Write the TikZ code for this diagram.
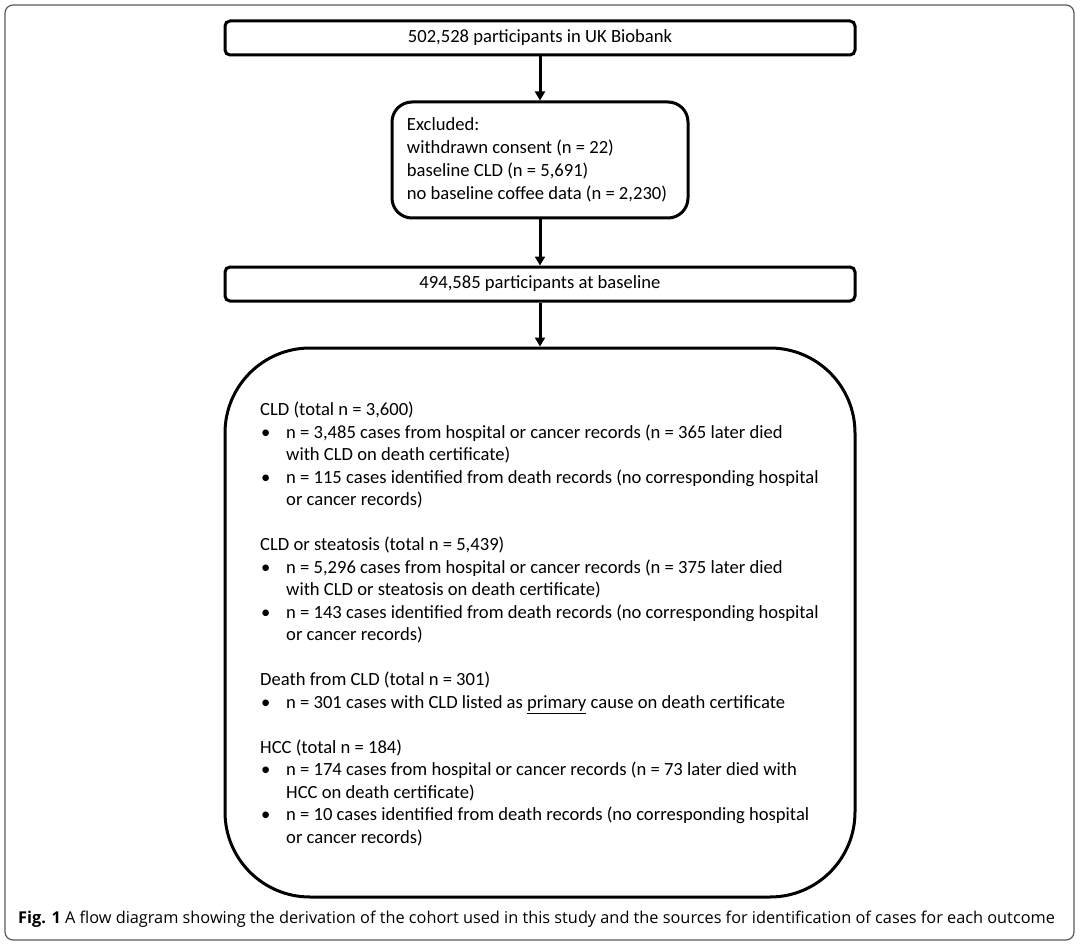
\documentclass[tikz,border=0pt]{standalone}
\usepackage{fontspec}
\setmainfont{Carlito}
\newfontfamily\capfont{Open Sans}
\usetikzlibrary{arrows.meta}
\tikzset{
  flowbox/.style={draw=black, line width=3pt, fill=white, rounded corners=5pt, minimum width=630pt, minimum height=34pt, inner sep=0pt, font=\fontsize{18.6}{22.5}\selectfont},
  flowarrow/.style={line width=3pt, -{Triangle[width=10pt,length=9pt]}},
}
\begin{document}
\begin{tikzpicture}[x=1pt,y=-1pt]
\useasboundingbox (0,0) rectangle (1080,947);
\draw[draw=black!65, line width=1.2pt, rounded corners=8pt] (5,5) rectangle (1074,940);
\node[flowbox] (top) at (540,38) {\raisebox{-2pt}{502,528 participants in UK Biobank}};
\node[flowbox, rounded corners=20pt, minimum width=296pt, minimum height=116pt] (excl) at (540,160)
 {\raisebox{-3pt}{\fontsize{18.6}{23}\selectfont\begin{tabular}{@{}l@{\hspace{6pt}}}Excluded:\\ withdrawn consent (n = 22)\\ baseline CLD (n = 5,691)\\ no baseline coffee data (n = 2,230)\end{tabular}}};
\node[flowbox] (base) at (540,284) {\raisebox{-2pt}{494,585 participants at baseline}};
\node[flowbox, rounded corners=85pt, minimum width=630pt, minimum height=549pt] (out) at (540,622.5) {};
\node[anchor=north west, inner sep=0pt, font=\fontsize{18.6}{22.5}\selectfont] (outtext) at (260,400)
{\begin{tabular}{@{}p{26pt}@{}l@{}}
\multicolumn{2}{@{}l@{}}{CLD (total n = 3,600)}\\
\hspace{1pt}• & n = 3,485 cases from hospital or cancer records (n = 365 later died\\
 & with CLD on death certificate)\\
\hspace{1pt}• & n = 115 cases identified from death records (no corresponding hospital\\
 & or cancer records)\\
\multicolumn{2}{@{}l@{}}{}\\
\multicolumn{2}{@{}l@{}}{CLD or steatosis (total n = 5,439)}\\
\hspace{1pt}• & n = 5,296 cases from hospital or cancer records (n = 375 later died\\
 & with CLD or steatosis on death certificate)\\
\hspace{1pt}• & n = 143 cases identified from death records (no corresponding hospital\\
 & or cancer records)\\
\multicolumn{2}{@{}l@{}}{}\\
\multicolumn{2}{@{}l@{}}{Death from CLD (total n = 301)}\\
\hspace{1pt}• & n = 301 cases with CLD listed as \underline{primary} cause on death certificate\\
\multicolumn{2}{@{}l@{}}{}\\
\multicolumn{2}{@{}l@{}}{HCC (total n = 184)}\\
\hspace{1pt}• & n = 174 cases from hospital or cancer records (n = 73 later died with\\
 & HCC on death certificate)\\
\hspace{1pt}• & n = 10 cases identified from death records (no corresponding hospital\\
 & or cancer records)
\end{tabular}};
\draw[flowarrow] (top) -- (excl);
\draw[flowarrow] (excl) -- (base);
\draw[flowarrow] (base) -- (out);
\node[anchor=west, inner sep=0pt, font=\capfont\fontsize{16.3}{18}\selectfont] (caption) at (18,919)
 {\textbf{Fig. 1} A flow diagram showing the derivation of the cohort used in this study and the sources for identification of cases for each outcome};
\end{tikzpicture}
\end{document}
